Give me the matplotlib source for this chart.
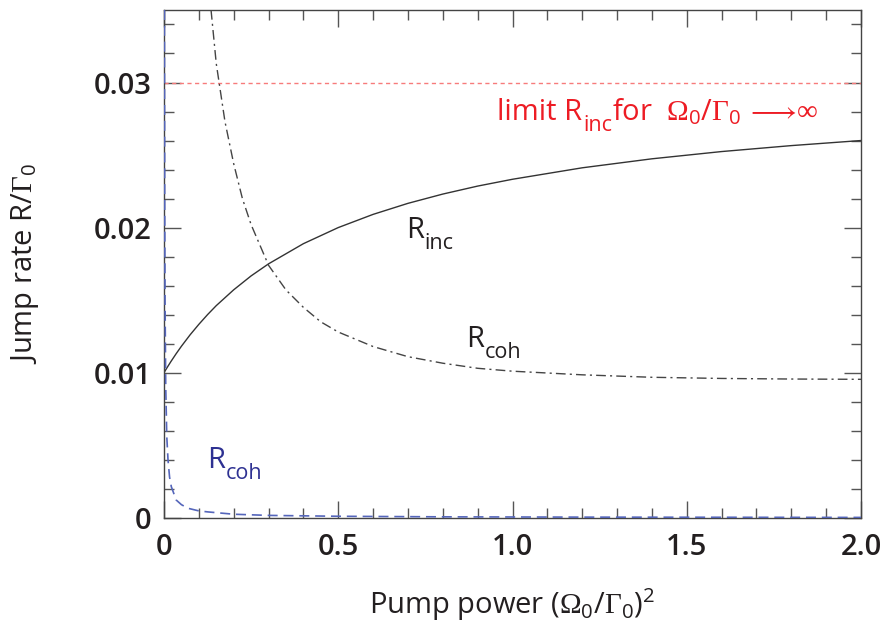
import matplotlib
matplotlib.use("Agg")
import matplotlib.pyplot as plt
from matplotlib.transforms import offset_copy

plt.rcParams['font.family'] = ['Open Sans', 'DejaVu Sans']
plt.rcParams['mathtext.fontset'] = 'custom'
plt.rcParams['mathtext.rm'] = 'Open Sans'
plt.rcParams['mathtext.it'] = 'Open Sans:italic'
plt.rcParams['mathtext.bf'] = 'Open Sans:bold'
plt.rcParams['mathtext.sf'] = 'Liberation Serif'

# Daten
s_inc = [0.0, 0.01, 0.02, 0.035, 0.05, 0.075, 0.1, 0.125, 0.15, 0.2, 0.25,
         0.3, 0.4, 0.5, 0.6, 0.7, 0.8, 0.9, 1.0, 1.2, 1.4, 1.6, 1.8, 2.0]
r_inc = [0.0100, 0.01039, 0.01077, 0.01131, 0.01182, 0.01261, 0.01333,
         0.0140, 0.01462, 0.01571, 0.01667, 0.0175, 0.01889, 0.0200,
         0.02091, 0.02167, 0.02231, 0.02286, 0.02333, 0.02412, 0.02474,
         0.02524, 0.02565, 0.0260]

s_coh = [0.135, 0.15, 0.175, 0.2, 0.225, 0.25, 0.3, 0.35, 0.4, 0.45, 0.5,
         0.6, 0.7, 0.8, 0.9, 1.0, 1.2, 1.4, 1.6, 1.8, 2.0]
r_coh = [0.0350, 0.0313, 0.0273, 0.0244, 0.0220, 0.0202, 0.0174, 0.0157,
         0.0145, 0.0135, 0.0128, 0.0118, 0.0111, 0.01065, 0.0103, 0.0101,
         0.00985, 0.00968, 0.0096, 0.00956, 0.00954]

s_coh_blau = [0.0012, 0.002, 0.003, 0.005, 0.008, 0.0115, 0.016, 0.021,
              0.035, 0.05, 0.069, 0.1, 0.126, 0.2, 0.3, 0.5, 0.8, 1.2, 2.0]
r_coh_blau = [0.035, 0.022, 0.015, 0.009, 0.0056, 0.0040, 0.0028, 0.00214,
              0.00122, 0.0009, 0.00065, 0.00047, 0.00040, 0.00024, 0.00016,
              0.0001, 0.00006, 0.00004, 0.00002]

grenze = 0.03

x_ticks = [0, 0.5, 1.0, 1.5, 2.0]
x_tick_labels = ['0', '0.5', '1.0', '1.5', '2.0']
y_ticks = [0, 0.01, 0.02, 0.03]
y_tick_labels = ['0', '0.01', '0.02', '0.03']

fig = plt.figure(figsize=(8.85, 6.35), dpi=100)
ax = fig.add_axes([0.1853, 0.1847, 0.7876, 0.7996])
renderer = fig.canvas.get_renderer()

textfarbe = '#231f20'

ax.axhline(grenze, color='#f77b7b', lw=1.0, ls=(0, (3, 2.5)))
ax.plot(s_inc, r_inc, color='#333333', lw=1.0)
ax.plot(s_coh, r_coh, color='#444444', lw=1.0, ls=(0, (7, 3, 1.5, 3)))
ax.plot(s_coh_blau, r_coh_blau, color='#5566bb', lw=1.2, ls=(0, (6, 3.5)),
        zorder=3)

ax.set_xlim(0, 2.0)
ax.set_ylim(0, 0.035)

ax.set_xticks(x_ticks, x_tick_labels)
ax.set_yticks(y_ticks, y_tick_labels)
ax.set_xticks([i / 10 for i in range(21)], minor=True)
ax.set_yticks([i * 0.002 for i in range(18)], minor=True)

ax.tick_params(which='both', direction='in', top=True, right=True,
               color='#555555', width=1.0)
ax.tick_params(which='major', length=12, labelsize=21, labelcolor=textfarbe)
ax.tick_params(which='minor', length=7)
ax.tick_params(axis='x', which='major', pad=11)
ax.tick_params(axis='y', which='major', pad=9)
for lab in ax.get_xticklabels() + ax.get_yticklabels():
    lab.set_fontweight('semibold')

for sp in ax.spines.values():
    sp.set_color('#444444')
    sp.set_linewidth(1.0)

ax.set_xlabel(r'Pump power ($\mathsf{\Omega}_0$/$\mathsf{\Gamma}_0$)$^2$',
              fontsize=21, color=textfarbe)
ax.set_ylabel(r'Jump rate R/$\mathsf{\Gamma}_0$', fontsize=21,
              color=textfarbe)
ax.xaxis.set_label_coords(0.5, -0.135)
ax.yaxis.set_label_coords(-0.177, 0.5)


# Text mit tiefgestelltem Index, Index tiefer als bei mathtext
def text_mit_index(x, y, haupt, index, farbe, rest=None):
    t = ax.text(x, y, haupt, fontsize=21, color=farbe)
    w = t.get_window_extent(renderer).width
    tr = offset_copy(ax.transData, fig=fig, x=w + 1, y=-11, units='dots')
    t2 = ax.text(x, y, index, fontsize=15.5, color=farbe, transform=tr)
    if rest is not None:
        w2 = t2.get_window_extent(renderer).width
        tr2 = offset_copy(ax.transData, fig=fig, x=w + w2 + 1, y=0,
                          units='dots')
        ax.text(x, y, rest, fontsize=21, color=farbe, transform=tr2)


text_mit_index(0.694, 0.0193, 'R', 'inc', textfarbe)
text_mit_index(0.867, 0.01176, 'R', 'coh', textfarbe)
text_mit_index(0.123, 0.00343, 'R', 'coh', '#2e3192')
text_mit_index(0.955, 0.0274, 'limit R', 'inc', '#ed1c24',
               r'for  $\mathsf{\Omega}_0/\mathsf{\Gamma}_0\,\longrightarrow\!\mathsf{\infty}$')

fig.savefig('out.png', dpi=100)
